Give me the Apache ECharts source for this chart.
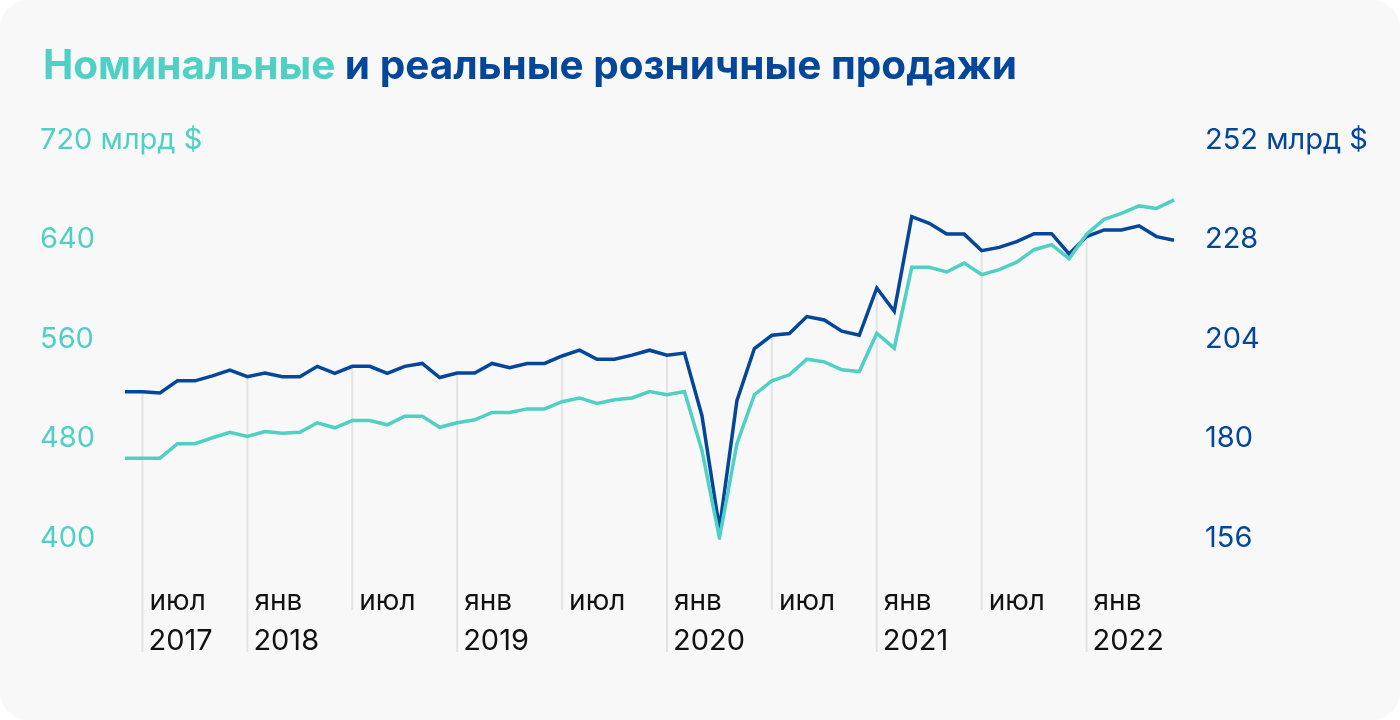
<!DOCTYPE html>
<html>
<head>
<meta charset="utf-8">
<script src="https://cdn.jsdelivr.net/npm/echarts@6/dist/echarts.min.js"></script>
<style>
  html, body { margin: 0; padding: 0; background: #ffffff; }
  #chart { width: 1400px; height: 720px; background: #f8f8f8; border-radius: 28px; overflow: hidden; }
</style>
</head>
<body>
<div id="chart"></div>
<script>
// Months from June 2017 to June 2022
const months = [
  '2017-06','2017-07','2017-08','2017-09','2017-10','2017-11','2017-12',
  '2018-01','2018-02','2018-03','2018-04','2018-05','2018-06','2018-07','2018-08','2018-09','2018-10','2018-11','2018-12',
  '2019-01','2019-02','2019-03','2019-04','2019-05','2019-06','2019-07','2019-08','2019-09','2019-10','2019-11','2019-12',
  '2020-01','2020-02','2020-03','2020-04','2020-05','2020-06','2020-07','2020-08','2020-09','2020-10','2020-11','2020-12',
  '2021-01','2021-02','2021-03','2021-04','2021-05','2021-06','2021-07','2021-08','2021-09','2021-10','2021-11','2021-12',
  '2022-01','2022-02','2022-03','2022-04','2022-05','2022-06'
];
// Nominal retail sales, bn $ (left axis)
const nominal = [
  464.2,464.2,464.2,475.8,475.8,480.6,485.0,
  481.6,485.6,484.2,485.0,492.6,488.6,494.4,494.4,491.0,497.8,497.8,489.0,
  492.6,495.0,501.0,501.0,503.8,503.8,509.6,512.6,508.2,511.2,512.6,517.8,
  515.2,517.8,470.4,400.0,475.8,515.2,526.4,531.2,543.8,541.6,535.2,533.8,
  564.6,552.6,617.6,617.6,613.9,621.0,611.8,615.8,621.8,631.8,635.8,624.6,
  644.2,656.2,661.0,667.0,665.0,671.8
];
// Real retail sales, bn $ (right axis)
const real = [
  191.3,191.3,191.0,193.9,193.9,195.1,196.5,
  194.9,195.8,194.9,194.9,197.4,195.7,197.4,197.4,195.7,197.4,198.1,194.7,
  195.8,195.8,198.1,197.1,198.1,198.1,199.9,201.3,199.1,199.1,200.1,201.3,
  200.1,200.6,185.5,158.3,189.1,201.7,204.9,205.3,209.4,208.6,205.9,204.9,
  216.3,210.7,233.5,231.9,229.3,229.3,225.3,226.1,227.5,229.4,229.4,224.5,
  228.7,230.3,230.3,231.3,228.7,227.8
];
const monthNames = ['янв','фев','мар','апр','май','июн','июл','авг','сен','окт','ноя','дек'];
const leftTicks = { min: 400, max: 720, interval: 80 };
const rightTicks = { min: 156, max: 252, interval: 24 };
const unit = ' млрд $';

const TEAL = '#4fd0c5';
const BLUE = '#03469a';
const FONT = 'Inter';

function monthOf(i) { return parseInt(months[i].slice(5), 10) - 1; }
function yearOf(i) { return months[i].slice(0, 4); }
function isMarked(i) { const m = monthOf(i); return m === 0 || m === 6; }
function hasYear(i) { return monthOf(i) === 0 || i === 1; }

const dropData = [];
months.forEach((m, i) => { if (isMarked(i)) dropData.push([i, real[i], hasYear(i) ? 1 : 0]); });

const chart = echarts.init(document.getElementById('chart'), null, { renderer: 'canvas' });
chart.setOption({
  backgroundColor: 'transparent',
  animation: false,
  title: {
    text: '{a|Номинальные}{b| и реальные розничные продажи}',
    left: 38, top: 41,
    textStyle: {
      rich: {
        a: { color: TEAL, fontSize: 40.5, fontWeight: 'bold', fontFamily: FONT },
        b: { color: BLUE, fontSize: 40.5, fontWeight: 'bold', fontFamily: FONT }
      }
    }
  },
  grid: { left: 125, right: 226, top: 140, bottom: 182 },
  xAxis: {
    type: 'category',
    boundaryGap: false,
    data: months,
    axisLine: { show: false },
    axisTick: { show: false },
    splitLine: { show: false },
    axisLabel: {
      interval: (i) => isMarked(i),
      align: 'left',
      verticalAlign: 'top',
      margin: 47,
      formatter: (v, i) => {
        const mon = monthNames[monthOf(i)];
        return hasYear(i) ? '{m|' + mon + '}\n{y|' + yearOf(i) + '}' : '{m|' + mon + '}';
      },
      rich: {
        m: { fontSize: 28, fontFamily: FONT, color: '#111111', lineHeight: 34, padding: [0, 0, 0, 7] },
        y: { fontSize: 29, fontFamily: FONT, color: '#111111', lineHeight: 44, padding: [0, 0, 0, 6] }
      }
    }
  },
  yAxis: [
    {
      type: 'value', position: 'left',
      min: leftTicks.min, max: leftTicks.max, interval: leftTicks.interval,
      axisLine: { show: false }, axisTick: { show: false }, splitLine: { show: false },
      axisLabel: {
        align: 'left', margin: 85, color: TEAL, fontSize: 29, fontFamily: FONT,
        padding: [4, 0, 0, 0],
        formatter: (v) => v === leftTicks.max ? v + unit : String(v)
      }
    },
    {
      type: 'value', position: 'right',
      min: rightTicks.min, max: rightTicks.max, interval: rightTicks.interval,
      axisLine: { show: false }, axisTick: { show: false }, splitLine: { show: false },
      axisLabel: {
        align: 'left', margin: 31, color: BLUE, fontSize: 29, fontFamily: FONT,
        padding: [4, 0, 0, 0],
        formatter: (v) => v === rightTicks.max ? v + unit : String(v)
      }
    }
  ],
  series: [
    {
      type: 'custom',
      xAxisIndex: 0, yAxisIndex: 1,
      z: 1,
      silent: true,
      data: dropData,
      renderItem: (params, api) => {
        const p = api.coord([api.value(0), api.value(1)]);
        const base = api.coord([api.value(0), rightTicks.min]);
        const y2 = base[1] + (api.value(2) ? 114 : 72);
        return {
          type: 'line',
          shape: { x1: p[0], y1: p[1], x2: p[0], y2: y2 },
          style: { stroke: '#e3e3e3', lineWidth: 2 }
        };
      }
    },
    {
      name: 'Реальные', type: 'line', yAxisIndex: 1, data: real,
      showSymbol: false, symbol: 'none', z: 3,
      lineStyle: { color: BLUE, width: 3.5, join: 'miter' }
    },
    {
      name: 'Номинальные', type: 'line', yAxisIndex: 0, data: nominal,
      showSymbol: false, symbol: 'none', z: 4,
      lineStyle: { color: TEAL, width: 3.5, join: 'miter' }
    }
  ]
});
</script>
</body>
</html>
